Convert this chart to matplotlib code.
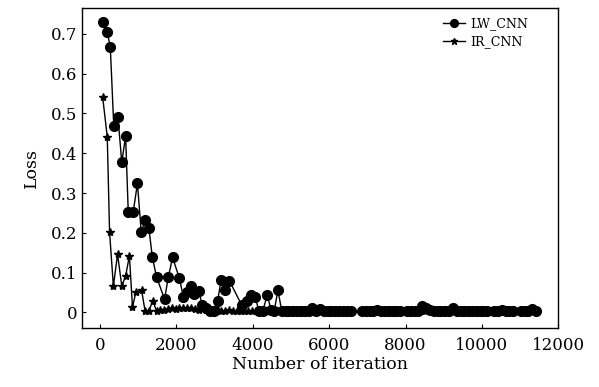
import matplotlib
matplotlib.use('Agg')
import matplotlib.pyplot as plt

plt.rcParams['font.family'] = ['DejaVu Serif']
plt.rcParams['mathtext.fontset'] = 'dejavuserif'

# LW_CNN loss curve
lw_iter = [70, 190, 270, 360, 470, 570, 670, 740, 870, 980,
           1080, 1180, 1280, 1370, 1480, 1690, 1790, 1900, 2080, 2180,
           2280, 2380, 2470, 2580, 2680, 2780, 2880, 2980, 3080, 3170,
           3280, 3390, 3710, 3840, 3960, 4060, 4160, 4260, 4380, 4480,
           4560, 4660, 4760, 4860, 4960, 5060, 5160, 5260, 5360, 5460,
           5560, 5660, 5760, 5860, 5960, 6060, 6160, 6260, 6360, 6460,
           6560, 6860, 6960, 7060, 7160, 7260, 7360, 7460, 7560, 7660,
           7760, 7860, 8040, 8140, 8240, 8340, 8440, 8540, 8640, 8740,
           8840, 8940, 9040, 9140, 9240, 9340, 9440, 9540, 9640, 9740,
           9840, 9940, 10040, 10140, 10320, 10420, 10520, 10620, 10720, 10820,
           11020, 11120, 11220, 11320, 11420]
lw_loss = [0.729, 0.705, 0.666, 0.469, 0.491, 0.377, 0.443, 0.251, 0.253, 0.324,
           0.201, 0.232, 0.211, 0.139, 0.089, 0.033, 0.089, 0.138, 0.085, 0.039,
           0.050, 0.066, 0.045, 0.054, 0.018, 0.010, 0.004, 0.003, 0.028, 0.081,
           0.057, 0.079, 0.018, 0.028, 0.043, 0.039, 0.004, 0.003, 0.043, 0.005,
           0.003, 0.055, 0.002, 0.003, 0.002, 0.004, 0.002, 0.003, 0.002, 0.004,
           0.010, 0.003, 0.008, 0.003, 0.002, 0.003, 0.002, 0.004, 0.002, 0.003,
           0.002, 0.002, 0.004, 0.003, 0.002, 0.005, 0.003, 0.002, 0.004, 0.003,
           0.002, 0.003, 0.004, 0.002, 0.003, 0.004, 0.015, 0.010, 0.005, 0.003,
           0.002, 0.004, 0.003, 0.002, 0.010, 0.004, 0.002, 0.003, 0.002, 0.004,
           0.003, 0.002, 0.003, 0.004, 0.003, 0.002, 0.006, 0.003, 0.002, 0.003,
           0.003, 0.002, 0.004, 0.008, 0.003]

# IR_CNN loss curve
ir_iter = [70, 190, 250, 350, 460, 570, 670, 770, 850, 940,
           1090, 1180, 1280, 1380, 1480, 1580, 1680, 1780, 1880, 1980,
           2080, 2180, 2280, 2380, 2480, 2580, 2680, 2780, 2880, 2980,
           3080, 3180, 3280, 3380, 3480, 3580, 3680, 3780, 3880, 3980,
           4080, 4180, 4280, 4380, 4480, 4580, 4680, 4780, 5500, 6500,
           7500, 8500, 9500, 10500, 11420]
ir_loss = [0.541, 0.441, 0.202, 0.066, 0.146, 0.066, 0.091, 0.142, 0.013, 0.051,
           0.055, 0.003, 0.004, 0.028, 0.004, 0.006, 0.005, 0.008, 0.010, 0.009,
           0.011, 0.010, 0.012, 0.011, 0.008, 0.006, 0.010, 0.005, 0.004, 0.006,
           0.005, 0.004, 0.003, 0.005, 0.004, 0.003, 0.004, 0.003, 0.002, 0.003,
           0.002, 0.003, 0.002, 0.002, 0.003, 0.002, 0.002, 0.002, 0.002, 0.002,
           0.002, 0.002, 0.002, 0.002, 0.002]

x_ticks = [0, 2000, 4000, 6000, 8000, 10000, 12000]
y_ticks = [0, 0.1, 0.2, 0.3, 0.4, 0.5, 0.6, 0.7]
y_labels = ['0', '0.1', '0.2', '0.3', '0.4', '0.5', '0.6', '0.7']

fig = plt.figure(figsize=(5.99, 3.87), dpi=100)
ax = fig.add_axes([0.137, 0.152, 0.795, 0.827])

ax.plot(ir_iter, ir_loss, color='black', lw=1.0, marker='*', markersize=6,
        label='IR_CNN', zorder=2)
ax.plot(lw_iter, lw_loss, color='black', lw=1.0, marker='o', markersize=7,
        label='LW_CNN', zorder=3)

ax.set_xlim(-470, 12000)
ax.set_ylim(-0.04, 0.765)
ax.set_xticks(x_ticks)
ax.set_yticks(y_ticks)
ax.set_yticklabels(y_labels)
ax.tick_params(direction='in', length=3, labelsize=12, width=0.8)
ax.tick_params(axis='x', pad=6)

for s in ax.spines.values():
    s.set_linewidth(1.0)

ax.set_xlabel('Number of iteration', fontsize=12.5, labelpad=2)
ax.set_ylabel('Loss', fontsize=12.5, labelpad=8)

handles, labels = ax.get_legend_handles_labels()
ax.legend(handles[::-1], labels[::-1], loc='upper right',
          bbox_to_anchor=(0.955, 1.0), frameon=False,
          fontsize=9, handlelength=1.8, handletextpad=0.4,
          borderaxespad=0.3, labelspacing=0.4, markerscale=0.8)

fig.savefig('out.png', dpi=100)
